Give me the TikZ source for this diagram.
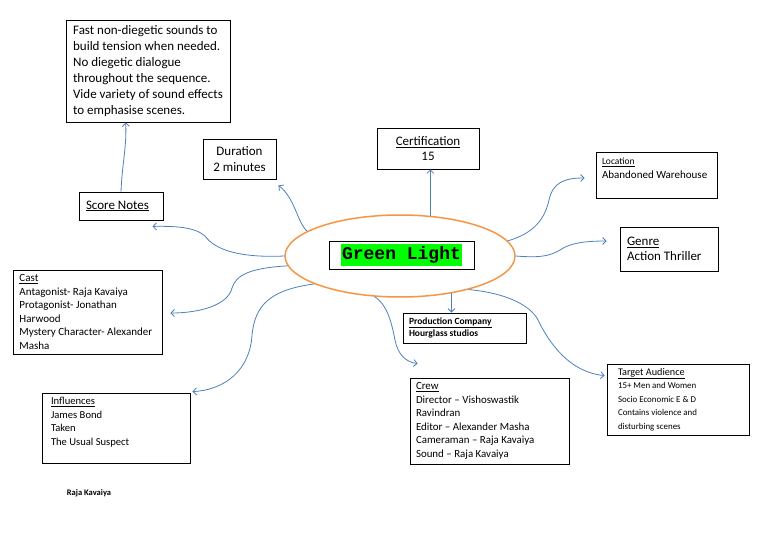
\documentclass[tikz,border=0pt]{standalone}
\usepackage{fontspec}
\setmainfont{Carlito}
\newfontfamily\titlefont{Liberation Mono}
\usepackage{xcolor}
\usetikzlibrary{shapes.geometric, arrows.meta, calc}
\definecolor{linkblue}{RGB}{79,129,189}
\definecolor{huborange}{RGB}{247,150,70}
\definecolor{glgreen}{RGB}{0,255,0}

\begin{document}
\begin{tikzpicture}[x=1pt, y=-1pt,
  box/.style={draw=black, line width=0.8pt, rectangle, align=flush left, inner xsep=6pt, inner ysep=1pt},
  link/.style={draw=linkblue, line width=0.8pt, -{Straight Barb[length=3.5pt, width=7pt]}},
  smalltext/.style={font=\fontsize{10.6}{13.5}\selectfont}]

\fill[white] (0,0) rectangle (768,543);
\useasboundingbox (0,0) rectangle (768,543);

% Centre: title inside the ellipse
\node[ellipse, draw=huborange, line width=1.5pt, minimum width=230pt, minimum height=82pt, inner sep=0pt] (hub) at (400,256) {};
\node[draw=black, line width=0.8pt, minimum width=145pt, minimum height=28pt, inner sep=0pt] (title) at (401.5,255) {};
\node[fill=glgreen, inner sep=1.5pt, minimum height=22pt, font=\fontsize{18}{20}\selectfont\titlefont\bfseries] (titletext) at (401.5,255) {Green Light};

% Top row
\node[box, minimum width=164pt, minimum height=102pt, font=\fontsize{13}{16}\selectfont] (scorebox) at (148,71) {Fast non-diegetic sounds to\\build tension when needed.\\No diegetic dialogue\\throughout the sequence.\\Vide variety of sound effects\\to emphasise scenes.};
\node[box, align=flush center, minimum width=73pt, minimum height=40pt, font=\fontsize{13}{16}\selectfont] (duration) at (239.5,159) {Duration\\2 minutes};
\node[box, align=flush center, minimum width=102pt, minimum height=41pt, font=\fontsize{13}{15}\selectfont] (cert) at (428,148.5) {\underline{Certification}\\15};
\node[box, text width=109pt, minimum height=46pt, font=\fontsize{11}{14}\selectfont] (location) at (656.5,175) {{\fontsize{9.5}{14}\selectfont\underline{Location}}\\Abandoned Warehouse\\~};

% Middle row
\node[box, inner xsep=7pt, text width=70pt, minimum height=28pt, font=\fontsize{13}{15}\selectfont] (notes) at (121,206) {\underline{Score Notes}};
\node[box, inner xsep=7pt, text width=84pt, minimum height=44pt, font=\fontsize{13}{15}\selectfont] (genre) at (669,249) {\underline{Genre}\\Action Thriller};
\node[box, inner xsep=6.5pt, text width=136pt, minimum height=84pt, font=\fontsize{11}{13.5}\selectfont] (cast) at (87.5,312) {\underline{Cast}\\Antagonist- Raja Kavaiya\\Protagonist- Jonathan\\Harwood\\Mystery Character- Alexander\\Masha};
\node[box, text width=111pt, minimum height=30pt, font=\fontsize{9.5}{12}\selectfont\bfseries] (prod) at (464.5,328) {\underline{Production Company}\\Hourglass studios};

% Bottom row
\node[box, smalltext, inner xsep=9pt, text width=130pt, minimum height=70pt] (influences) at (116,428) {\underline{Influences}\\James Bond\\Taken\\The Usual Suspect\\~};
\node[box, smalltext, text width=147pt, minimum height=86pt, font=\fontsize{10.9}{13.5}\selectfont] (crew) at (489.5,421) {\underline{Crew}\\Director -- Vishoswastik\\Ravindran\\Editor -- Alexander Masha\\Cameraman -- Raja Kavaiya\\Sound -- Raja Kavaiya};
\node[box, inner xsep=11pt, text width=120pt, minimum height=71pt, font=\fontsize{8.9}{13.5}\selectfont] (target) at (678,399.5) {{\fontsize{10.2}{13.5}\selectfont\underline{Target Audience}}\\15+ Men and Women\\Socio Economic E \& D\\Contains violence and\\disturbing scenes};

\node[font=\fontsize{8.5}{10}\selectfont\bfseries] (author) at (89,493) {Raja Kavaiya};

% Connectors from the hub
\draw[link] (notes.north) .. controls (122,165) and (127,145) .. ($(scorebox.south west)+(60,0)$);
\draw[link] (hub.west) .. controls (240,258) and (215,250) .. (205,236) .. controls (195,227) and (175,226) .. ($(notes.south east)+(-11,6)$);
\draw[link] (hub.165) .. controls (297,222) and (295,198) .. ($(duration.south east)+(2,6)$);
\draw[link] (hub.53) -- (hub.53 |- cert.south);
\draw[link] (hub.8) .. controls (535,233) and (545,218) .. (549,200) .. controls (553,182) and (565,178) .. ($(location.west)+(-11,3)$);
\draw[link] (hub.east) .. controls (540,258) and (550,256) .. (560,250) .. controls (570,243) and (585,241) .. ($(genre.west)+(-13,-8)$);
\draw[link] (hub.185) .. controls (250,268) and (236,275) .. (232,288) .. controls (228,305) and (200,313) .. ($(cast.east)+(8,1)$);
\draw[link] (hub.198) .. controls (270,290) and (255,305) .. (252,335) .. controls (250,370) and (225,390) .. ($(influences.north east)+(2,-1)$);
\draw[link] (hub.-36) -- (hub.-36 |- prod.north);
\draw[link] (hub.238) .. controls (388,305) and (392,325) .. (395,340) .. controls (398,355) and (406,362) .. ($(crew.north west)+(8,-14)$);
\draw[link] (hub.-26) .. controls (495,292) and (525,300) .. (537,318) .. controls (550,345) and (570,372) .. ($(target.north west)+(-2,12)$);

\end{tikzpicture}
\end{document}
